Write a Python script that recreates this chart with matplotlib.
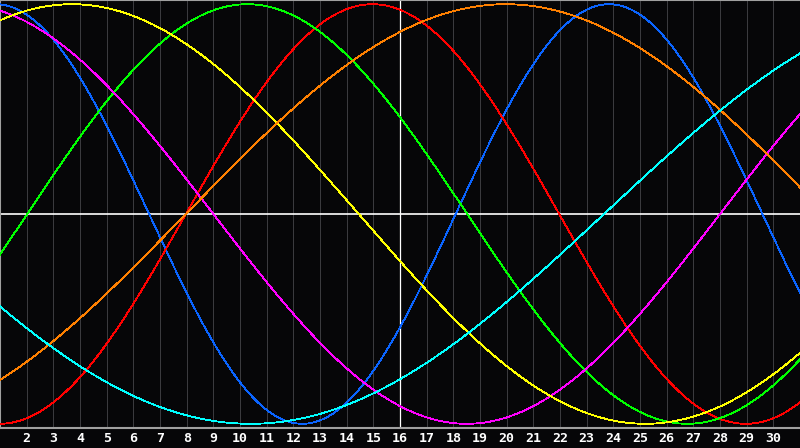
import matplotlib
matplotlib.use('Agg')
import matplotlib.pyplot as plt
import numpy as np

# cycles: period in days, day where the curve crosses zero going up, colour
periods    = [23, 28, 33, 38, 43, 48, 53]
zero_up    = [18.09, 7.97, 2.02, 28.0, 35.95, 7.97, 23.65]
colours    = ['#0a64ff', '#ff0000', '#00ff00', '#ff00ff', '#ffff00', '#ff8000', '#00ffff']
day_ticks  = list(range(2, 31))
day_labels = [str(d) for d in day_ticks]
today      = 16

fig = plt.figure(figsize=(8, 4.48), dpi=100, facecolor='#060608')
ax = fig.add_axes([0, 20 / 448, 1, 428 / 448])
ax.set_facecolor('#060608')

days = np.linspace(1, 31, 601)
for per, z, col in zip(periods, zero_up, colours):
    ax.plot(days, np.sin(2 * np.pi * (days - z) / per), color=col, lw=0.6,
            antialiased=False, zorder=3)

for d in day_ticks:
    ax.axvline(d, color='#3a3a3e', lw=0.72, antialiased=True, zorder=1)
ax.axvline(today, color='white', lw=0.9, zorder=2)
ax.axhline(0, color='white', lw=1.2, zorder=2)

ax.set_xlim(1, 31)
ax.set_ylim(-1.02, 1.02)
ax.set_yticks([])
ax.set_xticks(day_ticks)
ax.set_xticklabels(day_labels, color='white', fontsize=9.5,
                   fontfamily='DejaVu Sans Mono', fontweight='bold')
ax.tick_params(axis='x', length=0, pad=3)

for side in ['left', 'top', 'bottom']:
    ax.spines[side].set_color('#a0a0a0')
    ax.spines[side].set_linewidth(1.5)
ax.spines['right'].set_visible(False)

fig.savefig('out.png', dpi=100, facecolor=fig.get_facecolor())
